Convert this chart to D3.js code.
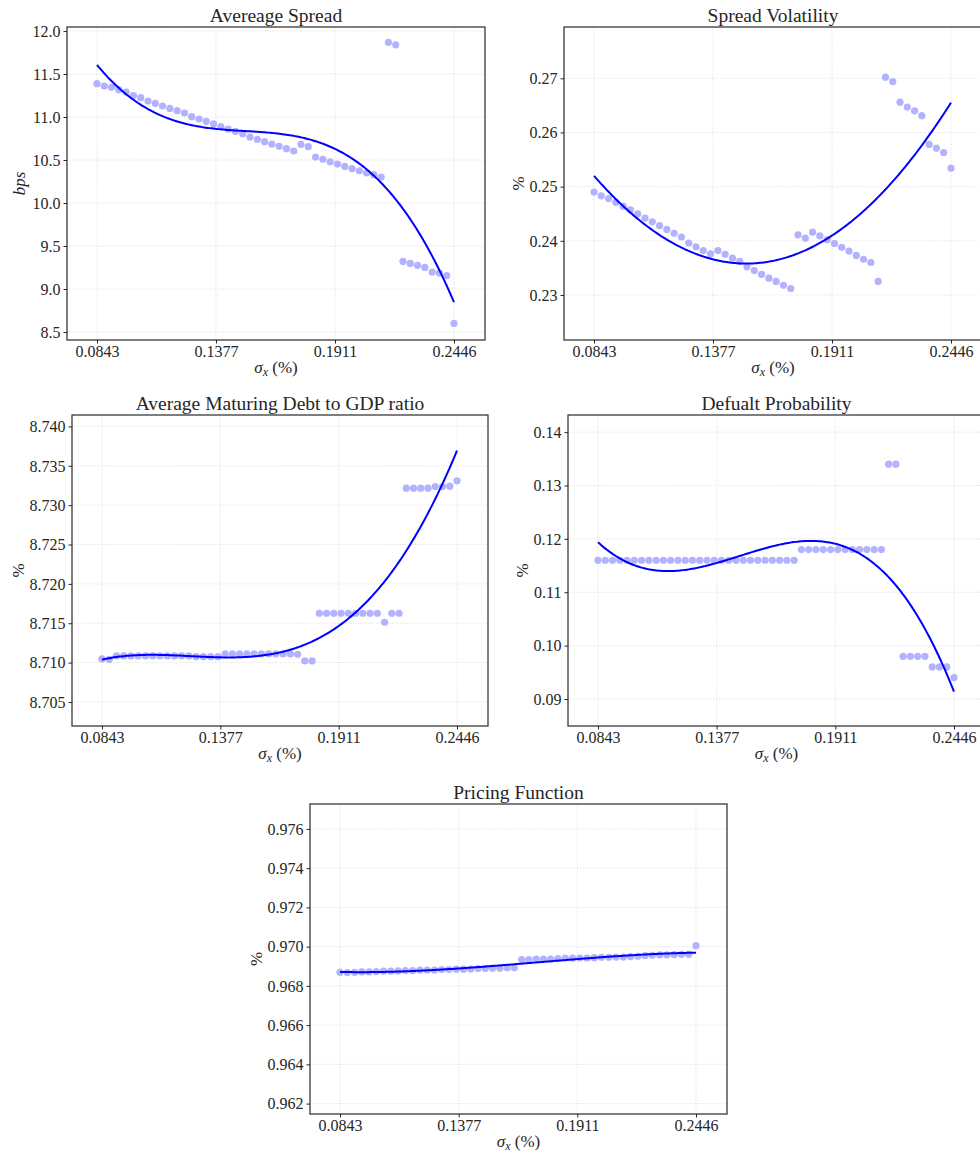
<!DOCTYPE html>
<html>
<head>
<meta charset="utf-8">
<script src="https://cdn.jsdelivr.net/npm/d3@7"></script>
<style>
  html, body { margin: 0; padding: 0; background: #ffffff; }
  svg { display: block; }
  text { font-family: "Liberation Serif", "Times New Roman", serif; fill: #262626; }
</style>
</head>
<body>
<svg id="fig" width="980" height="1158"></svg>
<script>
// Grid of sigma_x values (%) used in the simulations
const sigmaX = [
  0.0843, 0.08757, 0.09084, 0.09411, 0.09739, 0.10066, 0.10393, 0.10720, 0.11047, 0.11374,
  0.11701, 0.12029, 0.12356, 0.12683, 0.13010, 0.13337, 0.13664, 0.13991, 0.14319, 0.14646,
  0.14973, 0.15300, 0.15627, 0.15954, 0.16281, 0.16609, 0.16936, 0.17263, 0.17590, 0.17917,
  0.18244, 0.18571, 0.18899, 0.19226, 0.19553, 0.19880, 0.20207, 0.20534, 0.20861, 0.21189,
  0.21516, 0.21843, 0.22170, 0.22497, 0.22824, 0.23151, 0.23479, 0.23806, 0.24133, 0.2446
];
const xTickValues = [0.0843, 0.137733, 0.191167, 0.2446];
const xTickLabels = ["0.0843", "0.1377", "0.1911", "0.2446"];

// Average spread (bps)
const avgSpread = [
  11.388, 11.36, 11.345, 11.318, 11.29, 11.25, 11.225, 11.186, 11.159, 11.128,
  11.10, 11.074, 11.047, 11.004, 10.977, 10.95, 10.92, 10.89, 10.86, 10.833,
  10.806, 10.767, 10.74, 10.713, 10.686, 10.659, 10.632, 10.605, 10.682, 10.655,
  10.535, 10.508, 10.48, 10.453, 10.426, 10.40, 10.375, 10.35, 10.33, 10.30,
  11.868, 11.84, 9.321, 9.298, 9.275, 9.251, 9.197, 9.186, 9.155, 8.60
];
const avgSpreadTicks = [8.5, 9.0, 9.5, 10.0, 10.5, 11.0, 11.5, 12.0];

// Spread volatility (%)
const spreadVol = [
  0.2490, 0.2483, 0.2478, 0.2471, 0.2464, 0.2457, 0.2450, 0.2442, 0.2435, 0.2428,
  0.2421, 0.2414, 0.2407, 0.2396, 0.2389, 0.2382, 0.2376, 0.2382, 0.2375, 0.2368,
  0.2362, 0.2352, 0.2345, 0.2338, 0.2331, 0.2325, 0.2318, 0.2312, 0.2411, 0.2405,
  0.2416, 0.2409, 0.2402, 0.2395, 0.2388, 0.2381, 0.2373, 0.2366, 0.2360, 0.2325,
  0.2702, 0.2694, 0.2656, 0.2647, 0.2640, 0.2631, 0.2578, 0.2571, 0.2563, 0.2534
];
const spreadVolTicks = [0.23, 0.24, 0.25, 0.26, 0.27];

// Average maturing debt to GDP ratio (%)
const debtToGdp = [
  8.71047, 8.71042, 8.71085, 8.71085, 8.71085, 8.71085, 8.71085, 8.71085, 8.71085, 8.71085,
  8.71085, 8.71085, 8.71085, 8.71076, 8.71076, 8.71076, 8.71076, 8.7111, 8.7111, 8.7111,
  8.7111, 8.7111, 8.7111, 8.7111, 8.7111, 8.7111, 8.7111, 8.71106, 8.71021, 8.71021,
  8.71627, 8.71627, 8.71627, 8.71627, 8.71627, 8.71627, 8.71627, 8.71627, 8.71627, 8.71513,
  8.71627, 8.71627, 8.73216, 8.73216, 8.73216, 8.73216, 8.73237, 8.73237, 8.73241, 8.73309
];
const debtToGdpTicks = [8.705, 8.710, 8.715, 8.720, 8.725, 8.730, 8.735, 8.740];

// Default probability (%)
const defaultProb = [
  0.1160, 0.1160, 0.1160, 0.1160, 0.1160, 0.1160, 0.1160, 0.1160, 0.1160, 0.1160,
  0.1160, 0.1160, 0.1160, 0.1160, 0.1160, 0.1160, 0.1160, 0.1160, 0.1160, 0.1160,
  0.1160, 0.1160, 0.1160, 0.1160, 0.1160, 0.1160, 0.1160, 0.1160, 0.1180, 0.1180,
  0.1180, 0.1180, 0.1180, 0.1180, 0.1180, 0.1180, 0.1180, 0.1180, 0.1180, 0.1180,
  0.1340, 0.1340, 0.0980, 0.0980, 0.0980, 0.0980, 0.0960, 0.0960, 0.0960, 0.0940
];
const defaultProbTicks = [0.09, 0.10, 0.11, 0.12, 0.13, 0.14];

// Bond pricing function
const pricing = [
  0.96869, 0.96868, 0.96869, 0.96871, 0.96871, 0.96873, 0.96875, 0.96875, 0.96876, 0.96878,
  0.96878, 0.96880, 0.96881, 0.96881, 0.96883, 0.96883, 0.96885, 0.96885, 0.96886, 0.96888,
  0.96888, 0.96890, 0.96890, 0.96892, 0.96892, 0.96934, 0.96934, 0.96936, 0.96937, 0.96937,
  0.96939, 0.96941, 0.96941, 0.96942, 0.96942, 0.96944, 0.96946, 0.96946, 0.96947, 0.96947,
  0.96949, 0.96951, 0.96954, 0.96956, 0.96958, 0.96958, 0.96959, 0.96961, 0.96961, 0.97005
];
const pricingTicks = [0.962, 0.964, 0.966, 0.968, 0.970, 0.972, 0.974, 0.976];

// Panel placement (axes box in px) and y-extent of each axis
const panels = [
  { title: "Avereage Spread", ylab: "bps", italicY: true, values: avgSpread, ticks: avgSpreadTicks, fmt: ".1f",
    box: [67, 27, 485, 340], ydom: [8.407, 12.047] },
  { title: "Spread Volatility", ylab: "%", values: spreadVol, ticks: spreadVolTicks, fmt: ".2f",
    box: [564, 27, 982, 340], ydom: [0.22169, 0.27947] },
  { title: "Average Maturing Debt to GDP ratio", ylab: "%", values: debtToGdp, ticks: debtToGdpTicks, fmt: ".3f",
    box: [72, 415, 488, 726], ydom: [8.70195, 8.74145] },
  { title: "Defualt Probability", ylab: "%", values: defaultProb, ticks: defaultProbTicks, fmt: ".2f",
    box: [568, 415, 985, 726], ydom: [0.08494, 0.14321] },
  { title: "Pricing Function", ylab: "%", values: pricing, ticks: pricingTicks, fmt: ".3f",
    box: [310, 804, 727, 1114], ydom: [0.96147, 0.97727] }
];

// Least-squares cubic polynomial through (xs, ys)
function cubicFit(xs, ys) {
  const mx = d3.mean(xs), sx = d3.deviation(xs);
  const t = xs.map(x => (x - mx) / sx);
  const A = d3.range(4).map(() => new Array(5).fill(0));
  t.forEach((ti, i) => {
    for (let r = 0; r < 4; r++) {
      for (let c = 0; c < 4; c++) A[r][c] += Math.pow(ti, r + c);
      A[r][4] += ys[i] * Math.pow(ti, r);
    }
  });
  for (let k = 0; k < 4; k++) {
    let p = k;
    for (let r = k + 1; r < 4; r++) if (Math.abs(A[r][k]) > Math.abs(A[p][k])) p = r;
    [A[k], A[p]] = [A[p], A[k]];
    for (let r = 0; r < 4; r++) {
      if (r === k) continue;
      const f = A[r][k] / A[k][k];
      for (let c = k; c < 5; c++) A[r][c] -= f * A[k][c];
    }
  }
  const coef = A.map((row, k) => row[4] / row[k]);
  return x => {
    const u = (x - mx) / sx;
    return coef[0] + coef[1] * u + coef[2] * u * u + coef[3] * u * u * u;
  };
}

const svg = d3.select("#fig");

panels.forEach(p => {
  const [x0, y0, x1, y1] = p.box;
  const g = svg.append("g");

  const x = d3.scaleLinear().domain([0.0843, 0.2446]).range([x0 + 30, x1 - 31]);
  const y = d3.scaleLinear().domain(p.ydom).range([y1, y0]);

  // dotted grid
  const grid = g.append("g").attr("stroke", "#d6d6d6").attr("stroke-width", 0.8)
    .attr("stroke-dasharray", "1,1.6");
  grid.selectAll("line.v").data(xTickValues).join("line")
    .attr("x1", d => x(d)).attr("x2", d => x(d)).attr("y1", y0).attr("y2", y1);
  grid.selectAll("line.h").data(p.ticks).join("line")
    .attr("y1", d => y(d)).attr("y2", d => y(d)).attr("x1", x0).attr("x2", x1);

  // simulated points
  g.append("g").selectAll("circle").data(p.values).join("circle")
    .attr("cx", (d, i) => x(sigmaX[i])).attr("cy", d => y(d)).attr("r", 3.6)
    .attr("fill", "#b2b2ff");

  // cubic fit
  const f = cubicFit(sigmaX, p.values);
  const xs = d3.range(0, 201).map(i => 0.0843 + (0.2446 - 0.0843) * i / 200);
  g.append("path").datum(xs)
    .attr("d", d3.line().x(d => x(d)).y(d => y(f(d))))
    .attr("fill", "none").attr("stroke", "#0000ff").attr("stroke-width", 2);

  // axis frame
  g.append("rect").attr("x", x0).attr("y", y0).attr("width", x1 - x0).attr("height", y1 - y0)
    .attr("fill", "none").attr("stroke", "#3a3a3a").attr("stroke-width", 1.3);

  // x axis ticks
  const xa = g.append("g").attr("transform", `translate(0,${y1})`)
    .call(d3.axisBottom(x).tickValues(xTickValues).tickFormat((d, i) => xTickLabels[i])
      .tickSizeInner(3.5).tickSizeOuter(0).tickPadding(3));
  xa.select(".domain").remove();
  xa.selectAll("line").attr("stroke", "#262626").attr("stroke-width", 1);
  xa.selectAll("text").attr("font-size", 16).attr("dy", null).attr("y", 17)
    .attr("font-family", "Liberation Serif").attr("fill", "#262626");

  // y axis ticks
  const ya = g.append("g").attr("transform", `translate(${x0},0)`)
    .call(d3.axisLeft(y).tickValues(p.ticks).tickFormat(d3.format(p.fmt))
      .tickSizeInner(3.5).tickSizeOuter(0).tickPadding(3));
  ya.select(".domain").remove();
  ya.selectAll("line").attr("stroke", "#262626").attr("stroke-width", 1);
  ya.selectAll("text").attr("font-size", 16).attr("dy", "0.33em")
    .attr("font-family", "Liberation Serif").attr("fill", "#262626");

  let minX = Infinity;
  ya.selectAll("text").each(function () {
    minX = Math.min(minX, x0 + this.getBBox().x);
  });

  // title
  g.append("text").attr("x", (x0 + x1) / 2).attr("y", y0 - 5)
    .attr("text-anchor", "middle").attr("font-size", 19.5).text(p.title);

  // x label: sigma_x (%)
  const xl = g.append("text").attr("x", (x0 + x1) / 2).attr("y", y1 + 33)
    .attr("text-anchor", "middle").attr("font-size", 17);
  xl.append("tspan").attr("font-style", "italic").text("σ");
  xl.append("tspan").attr("font-style", "italic").attr("font-size", 12).attr("dy", 3).text("x");
  xl.append("tspan").attr("dy", -3).text(" (%)");

  // y label
  const ly = minX - (p.italicY ? 8 : 6), cy = (y0 + y1) / 2;
  g.append("text").attr("transform", `translate(${ly},${cy}) rotate(-90)`)
    .attr("text-anchor", "middle").attr("font-size", 17)
    .attr("font-style", p.italicY ? "italic" : "normal").text(p.ylab);
});
</script>
</body>
</html>
